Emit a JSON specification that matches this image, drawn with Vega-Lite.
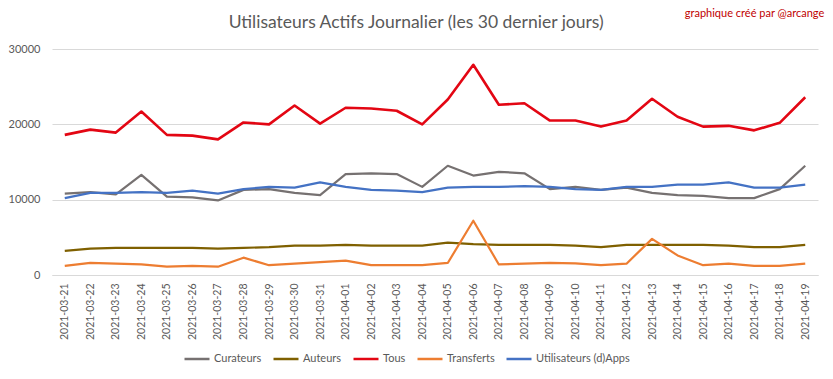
{
  "$schema": "https://vega.github.io/schema/vega-lite/v6.json",
  "autosize": "none",
  "width": 766,
  "height": 226,
  "padding": {"left": 52, "top": 49, "right": 15, "bottom": 104},
  "background": "white",
  "title": {
    "text": "Utilisateurs Actifs Journalier (les 30 dernier jours)",
    "anchor": "middle",
    "frame": "bounds",
    "font": "Lato",
    "fontSize": 17.5,
    "fontWeight": "normal",
    "color": "#595959",
    "offset": -23
  },
  "config": {
    "font": "Lato",
    "view": {"stroke": null},
    "legend": {"labelFont": "Lato"}
  },
  "layer": [
    {
      "data": {
        "values": [
          {"date": "2021-03-21", "Curateurs": 10800, "Auteurs": 3200, "Tous": 18600, "Transferts": 1200, "Utilisateurs (d)Apps": 10200},
          {"date": "2021-03-22", "Curateurs": 11000, "Auteurs": 3500, "Tous": 19300, "Transferts": 1600, "Utilisateurs (d)Apps": 10900},
          {"date": "2021-03-23", "Curateurs": 10700, "Auteurs": 3600, "Tous": 18900, "Transferts": 1500, "Utilisateurs (d)Apps": 10900},
          {"date": "2021-03-24", "Curateurs": 13300, "Auteurs": 3600, "Tous": 21700, "Transferts": 1400, "Utilisateurs (d)Apps": 11000},
          {"date": "2021-03-25", "Curateurs": 10400, "Auteurs": 3600, "Tous": 18600, "Transferts": 1100, "Utilisateurs (d)Apps": 10900},
          {"date": "2021-03-26", "Curateurs": 10300, "Auteurs": 3600, "Tous": 18500, "Transferts": 1200, "Utilisateurs (d)Apps": 11200},
          {"date": "2021-03-27", "Curateurs": 9900, "Auteurs": 3500, "Tous": 18000, "Transferts": 1100, "Utilisateurs (d)Apps": 10800},
          {"date": "2021-03-28", "Curateurs": 11300, "Auteurs": 3600, "Tous": 20250, "Transferts": 2300, "Utilisateurs (d)Apps": 11400},
          {"date": "2021-03-29", "Curateurs": 11400, "Auteurs": 3700, "Tous": 20000, "Transferts": 1300, "Utilisateurs (d)Apps": 11700},
          {"date": "2021-03-30", "Curateurs": 10900, "Auteurs": 3900, "Tous": 22500, "Transferts": 1500, "Utilisateurs (d)Apps": 11600},
          {"date": "2021-03-31", "Curateurs": 10600, "Auteurs": 3900, "Tous": 20100, "Transferts": 1700, "Utilisateurs (d)Apps": 12300},
          {"date": "2021-04-01", "Curateurs": 13400, "Auteurs": 4000, "Tous": 22200, "Transferts": 1900, "Utilisateurs (d)Apps": 11700},
          {"date": "2021-04-02", "Curateurs": 13500, "Auteurs": 3900, "Tous": 22100, "Transferts": 1300, "Utilisateurs (d)Apps": 11300},
          {"date": "2021-04-03", "Curateurs": 13400, "Auteurs": 3900, "Tous": 21800, "Transferts": 1300, "Utilisateurs (d)Apps": 11200},
          {"date": "2021-04-04", "Curateurs": 11700, "Auteurs": 3900, "Tous": 20000, "Transferts": 1300, "Utilisateurs (d)Apps": 11000},
          {"date": "2021-04-05", "Curateurs": 14500, "Auteurs": 4300, "Tous": 23300, "Transferts": 1600, "Utilisateurs (d)Apps": 11600},
          {"date": "2021-04-06", "Curateurs": 13200, "Auteurs": 4100, "Tous": 27900, "Transferts": 7200, "Utilisateurs (d)Apps": 11700},
          {"date": "2021-04-07", "Curateurs": 13700, "Auteurs": 4000, "Tous": 22600, "Transferts": 1400, "Utilisateurs (d)Apps": 11700},
          {"date": "2021-04-08", "Curateurs": 13500, "Auteurs": 4000, "Tous": 22800, "Transferts": 1500, "Utilisateurs (d)Apps": 11800},
          {"date": "2021-04-09", "Curateurs": 11400, "Auteurs": 4000, "Tous": 20500, "Transferts": 1600, "Utilisateurs (d)Apps": 11700},
          {"date": "2021-04-10", "Curateurs": 11700, "Auteurs": 3900, "Tous": 20500, "Transferts": 1550, "Utilisateurs (d)Apps": 11400},
          {"date": "2021-04-11", "Curateurs": 11300, "Auteurs": 3700, "Tous": 19700, "Transferts": 1300, "Utilisateurs (d)Apps": 11300},
          {"date": "2021-04-12", "Curateurs": 11600, "Auteurs": 4000, "Tous": 20500, "Transferts": 1500, "Utilisateurs (d)Apps": 11700},
          {"date": "2021-04-13", "Curateurs": 10900, "Auteurs": 4000, "Tous": 23400, "Transferts": 4800, "Utilisateurs (d)Apps": 11700},
          {"date": "2021-04-14", "Curateurs": 10600, "Auteurs": 4000, "Tous": 21000, "Transferts": 2600, "Utilisateurs (d)Apps": 12000},
          {"date": "2021-04-15", "Curateurs": 10500, "Auteurs": 4000, "Tous": 19700, "Transferts": 1300, "Utilisateurs (d)Apps": 12000},
          {"date": "2021-04-16", "Curateurs": 10200, "Auteurs": 3900, "Tous": 19800, "Transferts": 1500, "Utilisateurs (d)Apps": 12300},
          {"date": "2021-04-17", "Curateurs": 10200, "Auteurs": 3700, "Tous": 19200, "Transferts": 1200, "Utilisateurs (d)Apps": 11600},
          {"date": "2021-04-18", "Curateurs": 11400, "Auteurs": 3700, "Tous": 20200, "Transferts": 1200, "Utilisateurs (d)Apps": 11600},
          {"date": "2021-04-19", "Curateurs": 14500, "Auteurs": 4000, "Tous": 23600, "Transferts": 1500, "Utilisateurs (d)Apps": 12000}
        ]
      },
      "transform": [
        {"fold": ["Curateurs", "Auteurs", "Tous", "Transferts", "Utilisateurs (d)Apps"], "as": ["serie", "value"]}
      ],
      "mark": {"type": "line", "strokeJoin": "round"},
      "encoding": {
        "x": {
          "field": "date",
          "type": "ordinal",
          "scale": {"type": "point", "padding": 0.5},
          "axis": {
            "title": null,
            "labelAngle": -90,
            "labelFontSize": 10.5,
            "labelColor": "#595959",
            "labelPadding": 8,
            "ticks": false,
            "domain": true,
            "domainColor": "#d9d9d9",
            "grid": false
          }
        },
        "y": {
          "field": "value",
          "type": "quantitative",
          "scale": {"domain": [0, 30000], "nice": false},
          "axis": {
            "title": null,
            "values": [0, 5000, 10000, 15000, 20000, 25000, 30000],
            "format": "d",
            "labelFontSize": 11,
            "labelColor": "#595959",
            "labelPadding": 12,
            "ticks": false,
            "domain": false,
            "gridColor": "#d9d9d9"
          }
        },
        "color": {
          "field": "serie",
          "type": "nominal",
          "scale": {
            "domain": ["Curateurs", "Auteurs", "Tous", "Transferts", "Utilisateurs (d)Apps"],
            "range": ["#767171", "#7f6000", "#e30613", "#ed7d31", "#4472c4"]
          },
          "legend": {
            "title": null,
            "orient": "none",
            "legendX": 131,
            "legendY": 296,
            "direction": "horizontal",
            "symbolType": "stroke",
            "symbolSize": 625,
            "symbolStrokeWidth": 2.5,
            "labelFontSize": 11,
            "labelColor": "#595959",
            "labelOffset": 3,
            "columnPadding": 6
          }
        },
        "strokeWidth": {
          "condition": {"test": "datum.serie === 'Tous'", "value": 2.6},
          "value": 2.2
        }
      }
    },
    {
      "data": {"values": [{"note": "graphique créé par @arcange"}]},
      "mark": {"type": "text", "align": "right", "baseline": "middle", "dx": 19, "fontSize": 11, "color": "#c00000", "clip": false},
      "encoding": {
        "text": {"field": "note"},
        "x": {"datum": "2021-04-19"},
        "y": {"datum": 34600}
      }
    }
  ]
}
